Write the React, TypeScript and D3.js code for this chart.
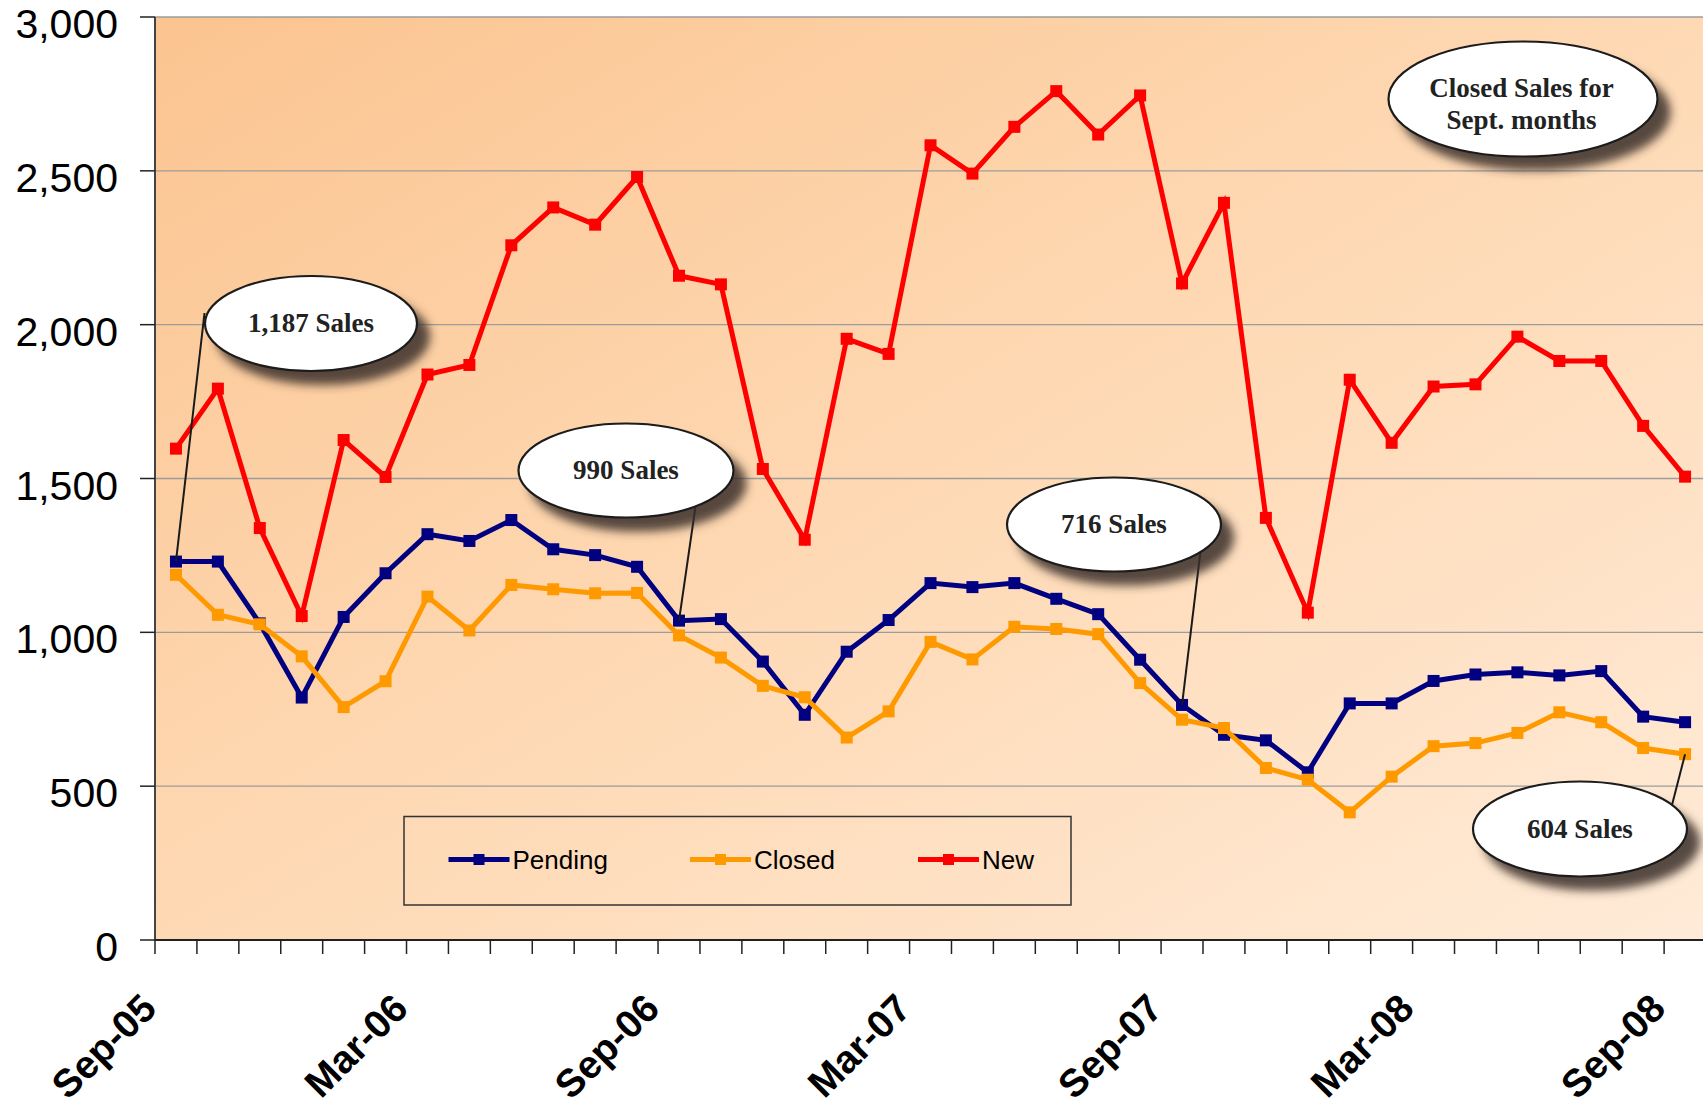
import React from "react";
import * as d3 from "d3";

// Monthly listing activity, Sep-05 .. Sep-08
const months = [
  "Sep-05", "Oct-05", "Nov-05", "Dec-05", "Jan-06", "Feb-06", "Mar-06", "Apr-06", "May-06",
  "Jun-06", "Jul-06", "Aug-06", "Sep-06", "Oct-06", "Nov-06", "Dec-06", "Jan-07", "Feb-07",
  "Mar-07", "Apr-07", "May-07", "Jun-07", "Jul-07", "Aug-07", "Sep-07", "Oct-07", "Nov-07",
  "Dec-07", "Jan-08", "Feb-08", "Mar-08", "Apr-08", "May-08", "Jun-08", "Jul-08", "Aug-08",
  "Sep-08",
];
const tickLabels = ["Sep-05", "Mar-06", "Sep-06", "Mar-07", "Sep-07", "Mar-08", "Sep-08"];
const yTicks = [0, 500, 1000, 1500, 2000, 2500, 3000];

const pending = [
  1230, 1230, 1029, 788, 1050, 1192, 1319, 1297, 1365, 1270, 1251, 1213, 1038, 1043, 905, 732,
  937, 1040, 1160, 1147, 1160, 1109, 1059, 911, 764, 667, 649, 545, 769, 769, 842, 863, 870,
  860, 874, 726, 708,
];
const closed = [
  1187, 1057, 1026, 922, 757, 841, 1116, 1006, 1154, 1140, 1127, 1128, 990, 918, 826, 789, 658,
  743, 969, 912, 1018, 1011, 994, 835, 716, 689, 559, 521, 415, 531, 630, 640, 673, 740, 708,
  624, 604,
];
const newListings = [
  1597, 1792, 1339, 1053, 1625, 1505, 1838, 1869, 2258, 2381, 2325, 2480, 2159, 2131, 1531,
  1301, 1954, 1905, 2583, 2491, 2643, 2759, 2618, 2745, 2134, 2396, 1372, 1064, 1821, 1616,
  1799, 1806, 1961, 1882, 1882, 1671, 1506,
];

const seriesNames = ["Pending", "Closed", "New"];
const seriesColors = ["#000080", "#FF9900", "#FF0000"];

const septMonths = ["Sep-05", "Sep-06", "Sep-07", "Sep-08"];
const titleLines = ["Closed Sales for", "Sept. months"];

const W = 1703;
const H = 1108;
const LEFT = 155;
const TOP = 17;
const BOTTOM = 940;
const BAND = 41.92;

export default function App() {
  const x = d3.scaleBand<string>().domain(months).range([LEFT, LEFT + months.length * BAND]);
  const cx = (m: string) => (x(m) as number) + x.bandwidth() / 2;
  const y = d3.scaleLinear().domain([0, 3000]).range([BOTTOM, TOP]);
  const right = LEFT + months.length * BAND;

  const lineGen = d3
    .line<number>()
    .x((_, i) => cx(months[i]))
    .y((d) => y(d));

  const series = [pending, closed, newListings];
  const fmt = d3.format(",");

  // callout ellipses for the September closed sales
  const callouts = [
    { cx: 311, cy: 323.5, rx: 106, ry: 47.5, from: [204.5, 313], target: "pending" },
    { cx: 626, cy: 470.5, rx: 107.5, ry: 47, from: [696, 503], target: "pending" },
    { cx: 1114, cy: 524.5, rx: 107, ry: 47, from: [1200.7, 549.3], target: "pending" },
    { cx: 1580, cy: 829, rx: 107, ry: 47.5, from: [1672, 805], target: "closed" },
  ];

  const boundaries = d3.range(months.length + 1).map((k) => LEFT + k * BAND);

  return (
    <svg
      width={W}
      height={H}
      style={{ position: "absolute", left: 0, top: 0, background: "#fff" }}
      fontFamily="'Liberation Sans', Arial, sans-serif"
    >
      <defs>
        <linearGradient id="bg" x1="0" y1="0" x2="1" y2="1">
          <stop offset="0" stopColor="#FBC490" />
          <stop offset="0.5" stopColor="#FED9B4" />
          <stop offset="1" stopColor="#FFEBD8" />
        </linearGradient>
        <filter id="shadow" x="-30%" y="-30%" width="170%" height="190%">
          <feGaussianBlur in="SourceAlpha" stdDeviation="5" result="b" />
          <feOffset in="b" dx="12" dy="13" result="o" />
          <feFlood floodColor="#3b2f2a" floodOpacity="0.85" />
          <feComposite in2="o" operator="in" result="s" />
          <feMerge>
            <feMergeNode in="s" />
            <feMergeNode in="SourceGraphic" />
          </feMerge>
        </filter>
      </defs>

      {/* plot background */}
      <rect x={LEFT} y={TOP} width={right - LEFT} height={BOTTOM - TOP} fill="url(#bg)" />

      {/* gridlines */}
      {yTicks.map((t) =>
        t === 0 ? null : (
          <line key={"g" + t} x1={LEFT} x2={right} y1={y(t)} y2={y(t)} stroke="#9c9c9c" strokeWidth={1.4} />
        )
      )}

      {/* y axis */}
      <line x1={LEFT} x2={LEFT} y1={TOP} y2={BOTTOM} stroke="#444" strokeWidth={2} />
      {yTicks.map((t) => (
        <g key={"yt" + t}>
          <line x1={140} x2={LEFT} y1={y(t)} y2={y(t)} stroke="#222" strokeWidth={1.5} />
          <text x={118} y={y(t) + 21} textAnchor="end" fontSize={41} fill="#000">
            {fmt(t)}
          </text>
        </g>
      ))}

      {/* x axis */}
      <line x1={LEFT} x2={right} y1={BOTTOM} y2={BOTTOM} stroke="#222" strokeWidth={2} />
      {boundaries.map((b, k) => (
        <line key={"xt" + k} x1={b} x2={b} y1={BOTTOM} y2={954} stroke="#222" strokeWidth={1.5} />
      ))}
      {tickLabels.map((m) => (
        <text
          key={"xl" + m}
          transform={`translate(${cx(m) - 27},${1001}) rotate(-45)`}
          textAnchor="end"
          dominantBaseline="central"
          fontSize={39}
          fontWeight="bold"
          fill="#000"
        >
          {m}
        </text>
      ))}

      {/* legend */}
      <rect x={404} y={816.5} width={667} height={88.5} fill="none" stroke="#333" strokeWidth={1.5} />
      {seriesNames.map((name, i) => {
        const lx = [448.5, 690, 918][i];
        return (
          <g key={"lg" + name}>
            <line x1={lx} x2={lx + 61} y1={859.5} y2={859.5} stroke={seriesColors[i]} strokeWidth={5} />
            <rect x={lx + 30.5 - 5.5} y={859.5 - 5.5} width={11} height={11} fill={seriesColors[i]} />
            <text x={lx + 64} y={869} fontSize={26} fill="#000">
              {name}
            </text>
          </g>
        );
      })}

      {/* series */}
      {series.map((vals, s) => (
        <g key={"s" + s}>
          <path d={lineGen(vals) || ""} fill="none" stroke={seriesColors[s]} strokeWidth={5} strokeLinejoin="miter" />
          {vals.map((v, i) => (
            <rect
              key={i}
              x={cx(months[i]) - 6}
              y={y(v) - 6}
              width={12}
              height={12}
              fill={seriesColors[s]}
            />
          ))}
        </g>
      ))}

      {/* September callouts */}
      {callouts.map((c, k) => {
        const m = septMonths[k];
        const i = months.indexOf(m);
        const ty = c.target === "pending" ? y(pending[i]) : y(closed[i]);
        return (
          <g key={"c" + k}>
            <line x1={c.from[0]} y1={c.from[1]} x2={cx(m)} y2={ty} stroke="#1a1a1a" strokeWidth={2} />
            <ellipse cx={c.cx} cy={c.cy} rx={c.rx} ry={c.ry} fill="#fff" stroke="#1a1a1a" strokeWidth={2.2} filter="url(#shadow)" />
            <text
              x={c.cx}
              y={c.cy + 8.5}
              textAnchor="middle"
              fontFamily="'Liberation Serif', 'Times New Roman', serif"
              fontWeight="bold"
              fontSize={27}
              fill="#222"
            >
              {fmt(closed[i]) + " Sales"}
            </text>
          </g>
        );
      })}

      {/* title callout */}
      <g>
        <ellipse cx={1523} cy={99} rx={134.5} ry={57.5} fill="#fff" stroke="#1a1a1a" strokeWidth={2.2} filter="url(#shadow)" />
        {titleLines.map((t, k) => (
          <text
            key={"tl" + k}
            x={1521.5}
            y={97 + k * 31.5}
            textAnchor="middle"
            fontFamily="'Liberation Serif', 'Times New Roman', serif"
            fontWeight="bold"
            fontSize={27}
            fill="#222"
          >
            {t}
          </text>
        ))}
      </g>
    </svg>
  );
}
